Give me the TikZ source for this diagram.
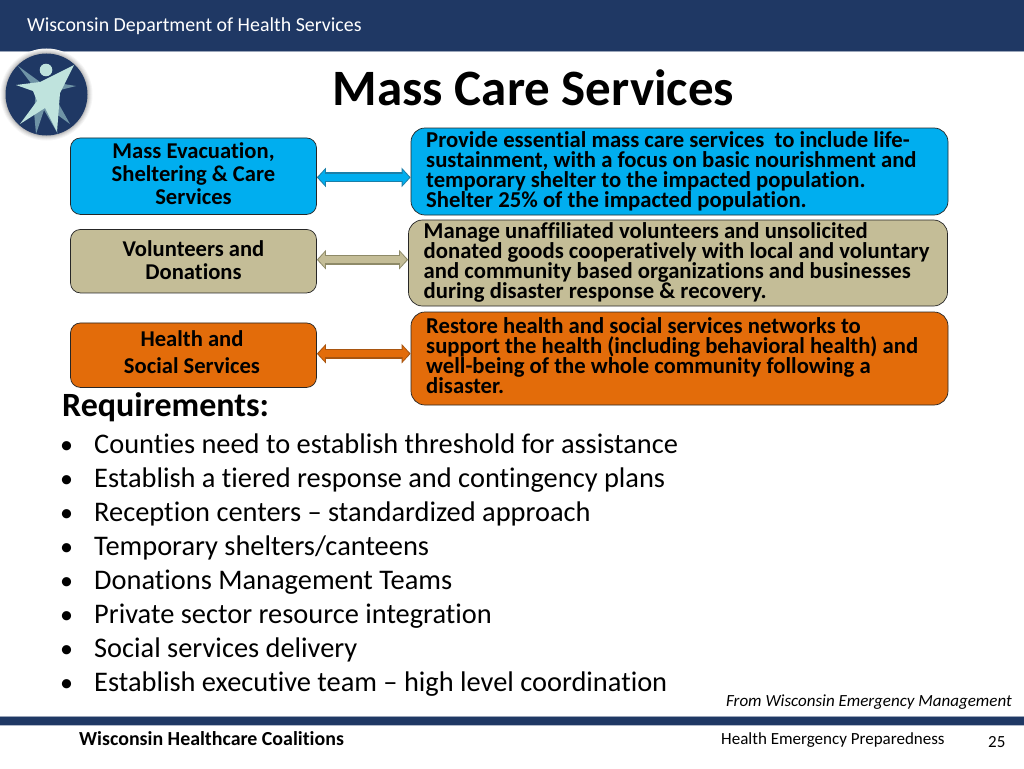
\documentclass[tikz,border=0pt]{standalone}
\usepackage{fontspec}
\setmainfont{Carlito}[Ligatures=NoCommon]
\usetikzlibrary{arrows.meta,shadings}
\definecolor{navy}{HTML}{1F3864}
\definecolor{skyb}{HTML}{00AEEF}
\definecolor{skyd}{HTML}{1B7FA8}
\definecolor{tan}{HTML}{C4BD97}
\definecolor{tand}{HTML}{8E8A68}
\definecolor{oran}{HTML}{E36C0A}
\definecolor{orand}{HTML}{A85510}
\definecolor{figa}{HTML}{BFE3DD}
\definecolor{figb}{HTML}{6F94A6}
\tikzset{
 x=1pt,y=-1pt,
 box/.style={draw=black!85,line width=0.7pt,rounded corners=10pt,inner sep=0pt,minimum width=246pt},
 infobox/.style={draw=black!85,line width=0.7pt,rounded corners=14pt,inner sep=0pt},
 boxtext/.style={font=\fontsize{22.6}{23}\selectfont\bfseries,align=center,text=black,inner sep=0pt},
 infotext/.style={font=\fontsize{22.7}{20}\selectfont\bfseries,align=left,text=black,inner sep=0pt,anchor=north west},
 plain/.style={inner sep=0pt,text=black,anchor=west},
 bullet/.style={inner sep=0pt,text=black,anchor=base west,font=\fontsize{28.4}{28}\selectfont},
}
\newcommand{\blockarrow}[4]{%
 \draw[#3,line width=10pt,{Triangle[length=9pt,width=19pt]}-{Triangle[length=9pt,width=19pt]}] (#1) -- (#2);
 \draw[#4,line width=7.5pt,{Triangle[length=6.5pt,width=14.5pt]}-{Triangle[length=6.5pt,width=14.5pt]},shorten <=1.5pt,shorten >=1.5pt] (#1) -- (#2);
}
\begin{document}
\begin{tikzpicture}
\useasboundingbox (0,0) rectangle (1024,768);
\fill[white] (0,0) rectangle (1024,768);
% header and footer bands
\fill[navy] (0,0) rectangle (1024,51);
\fill[navy!45] (0,51) rectangle (1024,52);
\fill[navy!45] (0,716) rectangle (1024,717);
\fill[navy] (0,717) rectangle (1024,725);
\fill[navy!35] (0,725) rectangle (1024,726);
\node[plain,text=white,font=\fontsize{19.9}{22}\selectfont] (org) at (27,26) {Wisconsin Department of Health Services};
% logo
\foreach \r/\g in {46/4,45/8,44/13,43/19,42/26}{\fill[black!\g] (46.5,94.5) circle (\r);}
\fill[navy] (46.5,94.5) circle (41);
\fill[figb] (18,66) -- (40,82) -- (52,82) -- (76,86) -- (52,92) -- (70,124) -- (48,108) -- (58,134) -- (44,110) -- (36,134) -- (34,112) -- (36,90) -- cycle;
\fill[figa] (16,85) -- (40,82) -- (74,65) -- (60,93) -- (57,132) -- (45,108) -- (20,124) -- (37,101) -- (33,91) -- cycle;
\fill[figa] (46,70) circle (6.3);
% title
\node[font=\fontsize{51}{54}\selectfont\bfseries,text=black,inner sep=0pt] (title) at (533.5,88) {Mass Care Services};
% boxes
\node[box,fill=skyb,minimum height=76.5pt] (a) at (193.5,176.2) {};
\node[box,fill=tan,minimum height=63.5pt] (b) at (193.5,261.2) {};
\node[box,fill=oran,minimum height=64.5pt] (c) at (193.5,355.2) {};
\node[infobox,fill=skyb,minimum height=87pt,minimum width=537pt] (ra) at (679.5,171.5) {};
\node[infobox,fill=tan,minimum height=86pt,minimum width=539pt] (rb) at (678,263) {};
\node[infobox,fill=oran,minimum height=93pt,minimum width=537pt] (rc) at (679.5,358.5) {};
\node[boxtext] (at) at (193.5,174) {Mass Evacuation,\\Sheltering \& Care\\Services};
\node[boxtext] (bt) at (193.5,260) {Volunteers and\\Donations};
\node[boxtext,font=\fontsize{22.6}{27}\selectfont\bfseries] (ct) at (192,352) {Health and\\Social Services};
\node[infotext] (rat) at (426,131.5) {Provide essential mass care services~ to include life-\\sustainment, with a focus on basic nourishment and\\temporary shelter to the impacted population.\\Shelter 25\% of the impacted population.};
\node[infotext] (rbt) at (423.5,222.5) {Manage unaffiliated volunteers and unsolicited\\donated goods cooperatively with local and voluntary\\and community based organizations and businesses\\during disaster response \& recovery.};
\node[infotext] (rct) at (426,317.5) {Restore health and social services networks to\\support the health (including behavioral health) and\\well-being of the whole community following a\\disaster.};
% connectors
\coordinate (ae) at ([yshift=-1.2pt]a.east);
\coordinate (be) at ([yshift=1.5pt]b.east);
\coordinate (ce) at ([yshift=1.5pt]c.east);
\blockarrow{ae}{ae -| ra.west}{skyd}{skyb}
\blockarrow{be}{be -| rb.west}{tand}{tan}
\blockarrow{ce}{ce -| rc.west}{orand}{oran}
% requirements
\node[inner sep=0pt,text=black,anchor=base west,font=\fontsize{34}{36}\selectfont\bfseries] (req) at (62,416) {Requirements:};
\foreach \n/\y/\t in {1/453/{Counties need to establish threshold for assistance},
 2/487/{Establish a tiered response and contingency plans},
 3/521/{Reception centers – standardized approach},
 4/555/{Temporary shelters/canteens},
 5/589/{Donations Management Teams},
 6/623/{Private sector resource integration},
 7/657/{Social services delivery},
 8/691/{Establish executive team – high level coordination}}{
 \node[bullet,font=\fontsize{26}{26}\selectfont] (dot\n) at (60,\y) {•};
 \node[bullet] (item\n) at (94,\y) {\t};
}
% footer texts
\node[plain,anchor=east,font=\fontsize{17}{19}\selectfont\itshape] (src) at (1012,702) {From Wisconsin Emergency Management};
\node[plain,font=\fontsize{19.9}{22}\selectfont\bfseries] (fl) at (79,739) {Wisconsin Healthcare Coalitions};
\node[plain,font=\fontsize{17}{19}\selectfont] (fr) at (721,740) {Health Emergency Preparedness};
\node[plain,font=\fontsize{17}{19}\selectfont] (pg) at (988,742) {25};
\end{tikzpicture}
\end{document}
